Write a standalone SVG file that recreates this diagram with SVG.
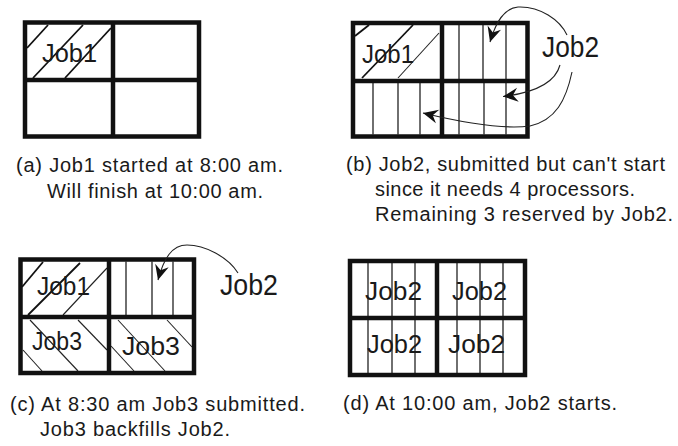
<svg xmlns="http://www.w3.org/2000/svg" width="678" height="446" viewBox="0 0 678 446">
<style>
.bg{fill:#fff}
.frame{fill:none;stroke:#111;stroke-width:4.5}
.thin{stroke:#222;stroke-width:1.3;fill:none}
.hatch{stroke:#111;stroke-width:1.8;fill:none}
.hatch2{stroke:#222;stroke-width:1.1;fill:none}
.lbl{font-family:"Liberation Sans",Arial,sans-serif;font-size:25px;fill:#1a1a1a}
.side{font-family:"Liberation Sans",Arial,sans-serif;font-size:29px;fill:#1a1a1a}
.cap{font-family:"Liberation Sans",Arial,sans-serif;font-size:20px;fill:#1a1a1a}
.conn{fill:none;stroke:#222;stroke-width:1.1}
</style>
<defs>
<marker id="ah" viewBox="-16 -8 17 16" refX="0" refY="0" markerWidth="17" markerHeight="16" markerUnits="userSpaceOnUse" orient="auto">
<path d="M0,0 L-15,-7 L-10,0 L-15,7 z" fill="#111"/>
</marker>
</defs>
<rect class="bg" x="0" y="0" width="678" height="446"/>

<g id="panel-a">
<line class="hatch" x1="27" y1="48" x2="48" y2="25"/>
<line class="hatch" x1="33" y1="78" x2="83" y2="25"/>
<line class="hatch" x1="65" y1="78" x2="111" y2="28"/>
<rect class="frame" x="25" y="22.5" width="174" height="114"/>
<line class="frame" x1="113" y1="22.5" x2="113" y2="136.5"/>
<line class="frame" x1="25" y1="80" x2="199" y2="80"/>
<text class="lbl" x="42" y="62" textLength="55" lengthAdjust="spacingAndGlyphs">Job1</text>
<text class="cap" x="16" y="172" textLength="267" lengthAdjust="spacing">(a) Job1 started at 8:00 am.</text>
<text class="cap" x="47" y="198" textLength="216" lengthAdjust="spacing">Will finish at 10:00 am.</text>
</g>

<g id="panel-b">
<line class="hatch" x1="355" y1="36" x2="369" y2="25"/>
<line class="hatch" x1="362" y1="78" x2="413" y2="25"/>
<line class="hatch2" x1="398" y1="78" x2="439" y2="33"/>
<line class="thin" x1="459" y1="25" x2="459" y2="79"/>
<line class="thin" x1="483" y1="25" x2="483" y2="79"/>
<line class="thin" x1="506" y1="25" x2="506" y2="79"/>
<line class="thin" x1="459" y1="83" x2="459" y2="134.5"/>
<line class="thin" x1="484" y1="83" x2="484" y2="134.5"/>
<line class="thin" x1="506" y1="83" x2="506" y2="134.5"/>
<line class="thin" x1="373" y1="83" x2="373" y2="134.5"/>
<line class="thin" x1="398" y1="83" x2="398" y2="134.5"/>
<line class="thin" x1="420" y1="83" x2="420" y2="134.5"/>
<rect class="frame" x="353" y="23" width="174.5" height="113.5"/>
<line class="frame" x1="442" y1="23" x2="442" y2="136.5"/>
<line class="frame" x1="353" y1="81" x2="527.5" y2="81"/>
<text class="lbl" x="362" y="63" textLength="52" lengthAdjust="spacingAndGlyphs">Job1</text>
<text class="cap" x="346" y="171" textLength="319" lengthAdjust="spacing">(b) Job2, submitted but can't start</text>
<text class="cap" x="375" y="196" textLength="260" lengthAdjust="spacing">since it needs 4 processors.</text>
<text class="cap" x="375" y="221" textLength="298" lengthAdjust="spacing">Remaining 3 reserved by Job2.</text>
</g>
<g id="label-b-job2">
<text class="side" x="542" y="57" textLength="57" lengthAdjust="spacingAndGlyphs">Job2</text>
</g>

<g id="panel-c">
<line class="hatch" x1="22" y1="287" x2="43" y2="262"/>
<line class="hatch" x1="28" y1="315" x2="80" y2="263"/>
<line class="hatch2" x1="63" y1="315" x2="107" y2="268"/>
<line class="hatch2" x1="23" y1="350" x2="42" y2="371"/>
<line class="hatch2" x1="30" y1="320" x2="78" y2="371"/>
<line class="hatch2" x1="78" y1="320" x2="107" y2="350"/>
<line class="hatch2" x1="111" y1="346" x2="134" y2="371"/>
<line class="hatch2" x1="118" y1="320" x2="165" y2="371"/>
<line class="hatch2" x1="167" y1="320" x2="192" y2="347"/>
<line class="thin" x1="126" y1="261.5" x2="126" y2="315"/>
<line class="thin" x1="152" y1="261.5" x2="152" y2="315"/>
<line class="thin" x1="173" y1="261.5" x2="173" y2="315"/>
<rect class="frame" x="20.5" y="259.5" width="173.5" height="113.5"/>
<line class="frame" x1="109" y1="259.5" x2="109" y2="373"/>
<line class="frame" x1="20.5" y1="317" x2="194" y2="317"/>
<text class="lbl" x="37" y="295" textLength="53" lengthAdjust="spacingAndGlyphs">Job1</text>
<text class="lbl" x="32" y="350" textLength="50" lengthAdjust="spacingAndGlyphs">Job3</text>
<text class="lbl" x="122" y="355" textLength="58" lengthAdjust="spacingAndGlyphs">Job3</text>
<text class="cap" x="10" y="411" textLength="295" lengthAdjust="spacing">(c) At 8:30 am Job3 submitted.</text>
<text class="cap" x="40" y="436" textLength="190" lengthAdjust="spacing">Job3 backfills Job2.</text>
</g>
<g id="label-c-job2">
<text class="side" x="220" y="295" textLength="58" lengthAdjust="spacingAndGlyphs">Job2</text>
</g>

<g id="panel-d">
<line class="thin" x1="368" y1="263" x2="368" y2="316"/>
<line class="thin" x1="392" y1="263" x2="392" y2="316"/>
<line class="thin" x1="415" y1="263" x2="415" y2="316"/>
<line class="thin" x1="457" y1="263" x2="457" y2="316"/>
<line class="thin" x1="480" y1="263" x2="480" y2="316"/>
<line class="thin" x1="503" y1="263" x2="503" y2="316"/>
<line class="thin" x1="368" y1="320" x2="368" y2="373"/>
<line class="thin" x1="392" y1="320" x2="392" y2="373"/>
<line class="thin" x1="415" y1="320" x2="415" y2="373"/>
<line class="thin" x1="457" y1="320" x2="457" y2="373"/>
<line class="thin" x1="480" y1="320" x2="480" y2="373"/>
<line class="thin" x1="503" y1="320" x2="503" y2="373"/>
<rect class="frame" x="350" y="261" width="175" height="114"/>
<line class="frame" x1="437" y1="261" x2="437" y2="375"/>
<line class="frame" x1="350" y1="318" x2="525" y2="318"/>
<text class="lbl" x="365" y="300" textLength="57" lengthAdjust="spacingAndGlyphs">Job2</text>
<text class="lbl" x="452" y="300" textLength="55" lengthAdjust="spacingAndGlyphs">Job2</text>
<text class="lbl" x="367" y="353" textLength="55" lengthAdjust="spacingAndGlyphs">Job2</text>
<text class="lbl" x="448" y="353" textLength="57" lengthAdjust="spacingAndGlyphs">Job2</text>
<text class="cap" x="343" y="410" textLength="274" lengthAdjust="spacing">(d) At 10:00 am, Job2 starts.</text>
</g>

<g id="connectors">
<path class="conn" marker-end="url(#ah)" d="M567,35 C560,20 540,6 518,7 C504,8 496,22 490,42"/>
<path class="conn" marker-end="url(#ah)" d="M560,65 C556,80 540,92 503,96.5"/>
<path class="conn" marker-end="url(#ah)" d="M572,72 C566,100 556,120 530,126 C500,130 460,122 423,113"/>
<path class="conn" marker-end="url(#ah)" d="M238,273 C228,257 205,245 187,245 C172,245 164,258 158,280"/>
</g>
</svg>
